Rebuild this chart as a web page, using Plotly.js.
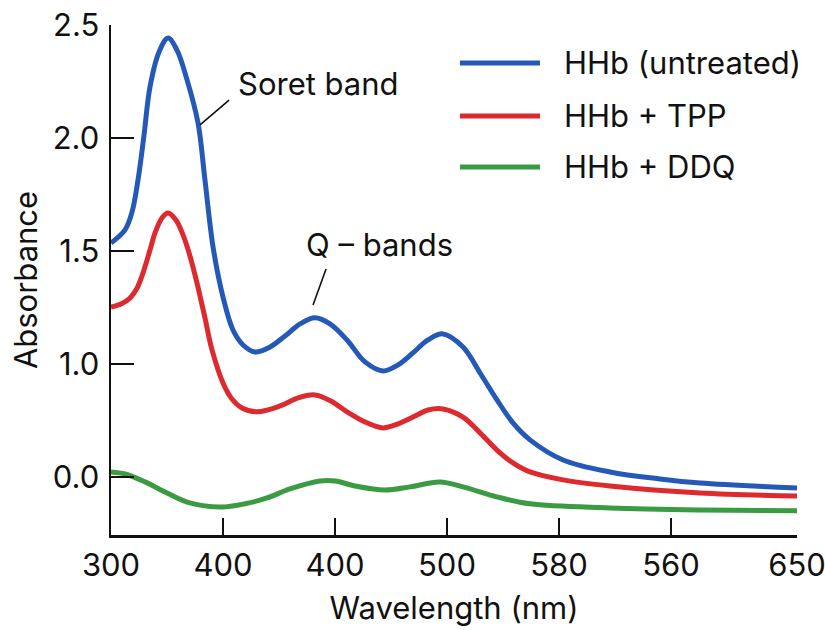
<!DOCTYPE html>
<html>
<head>
<meta charset="utf-8">
<script src="https://cdn.plot.ly/plotly-3.0.1.min.js"></script>
<style>html,body{margin:0;padding:0;background:#fff;}#chart{width:825px;height:630px;}</style>
</head>
<body>
<div id="chart"></div>
<script>
// Series names
const seriesNames = ["HHb (untreated)", "HHb + TPP", "HHb + DDQ"];
const seriesColors = ["#2559b8", "#dc2a2e", "#3a9b42"];

// Axis ticks (plot-unit positions and printed labels, as in the original figure)
const xTickVals = [300, 400, 500, 600, 700, 800, 912.5];
const xTickText = ["300", "400", "400", "500", "580", "560", "650"];
const yTickVals = [0.5, 1.0, 1.5, 2.0, 2.5];
const yTickText = ["0.0", "1.0", "1.5", "2.0", "2.5"];

// HHb (untreated)
const blueX = [300.0, 312.5, 318.8, 324.1, 329.5, 334.8, 342.9, 350.9, 358.9, 367.9, 377.7, 383.9, 391.1, 400.0, 408.9, 417.9, 428.6, 442.0, 455.4, 468.8, 482.1, 495.5, 510.7, 526.8, 542.9, 556.3, 569.6, 583.0, 596.4, 614.3, 629.5, 644.6, 658.9, 674.1, 703.6, 745.5, 790.2, 825.9, 912.5];
const blueY = [1.535, 1.593, 1.673, 1.814, 2.013, 2.226, 2.381, 2.442, 2.389, 2.257, 2.066, 1.814, 1.518, 1.296, 1.150, 1.084, 1.053, 1.075, 1.124, 1.177, 1.204, 1.177, 1.106, 1.009, 0.969, 0.996, 1.049, 1.106, 1.133, 1.075, 0.960, 0.841, 0.739, 0.664, 0.575, 0.522, 0.491, 0.473, 0.451];

// HHb + TPP
const redX = [300.0, 309.8, 317.0, 323.2, 328.6, 334.8, 339.3, 345.5, 350.9, 358.0, 364.3, 370.5, 376.8, 383.9, 390.2, 400.0, 408.0, 417.0, 430.4, 450.9, 467.0, 482.1, 496.4, 510.7, 526.8, 542.9, 556.3, 569.6, 583.0, 596.4, 614.3, 629.5, 644.6, 658.9, 674.1, 703.6, 745.5, 825.9, 912.5];
const redY = [1.252, 1.268, 1.292, 1.335, 1.403, 1.504, 1.580, 1.646, 1.668, 1.637, 1.571, 1.478, 1.358, 1.204, 1.062, 0.916, 0.845, 0.805, 0.788, 0.814, 0.850, 0.863, 0.836, 0.788, 0.743, 0.717, 0.735, 0.765, 0.796, 0.801, 0.765, 0.695, 0.619, 0.562, 0.522, 0.487, 0.460, 0.429, 0.416];

// HHb + DDQ
const greenX = [300.0, 312.5, 330.4, 350.0, 370.5, 397.3, 419.6, 439.3, 459.8, 486.6, 500.0, 517.9, 544.6, 567.0, 593.8, 614.3, 644.6, 674.1, 745.5, 825.9, 912.5];
const greenY = [0.522, 0.513, 0.478, 0.429, 0.385, 0.367, 0.381, 0.407, 0.447, 0.482, 0.482, 0.460, 0.442, 0.456, 0.478, 0.456, 0.412, 0.381, 0.363, 0.354, 0.350];

const xs = [blueX, redX, greenX];
const ys = [blueY, redY, greenY];

const FONT = "Inter, 'Liberation Sans', Arial, sans-serif";
const FS = 31;

const traces = xs.map((x, i) => ({
  x: x, y: ys[i], type: "scatter", mode: "lines",
  name: seriesNames[i],
  line: {color: seriesColors[i], width: 5, shape: "spline", smoothing: 1},
  cliponaxis: false,
  showlegend: false,
  hoverinfo: "skip"
}));

// Manual legend (long line swatches like the original)
const legYs = [0.9255, 0.8216, 0.7216];
const shapes = [];
const annotations = [];
seriesNames.forEach((n, i) => {
  shapes.push({type: "line", xref: "paper", yref: "paper", x0: 0.5087, x1: 0.6254, y0: legYs[i], y1: legYs[i],
    line: {color: seriesColors[i], width: 5}});
  annotations.push({xref: "paper", yref: "paper", x: 0.6574, y: legYs[i], xanchor: "left", yanchor: "middle",
    text: n, showarrow: false, font: {family: FONT, size: FS, color: "#111"}});
});

// Pointer lines
shapes.push({type: "line", xref: "x", yref: "y", x0: 379.5, y0: 2.058, x1: 405.4, y1: 2.168, line: {color: "#111", width: 1.6}});
shapes.push({type: "line", xref: "x", yref: "y", x0: 480.4, y0: 1.261, x1: 492.0, y1: 1.420, line: {color: "#111", width: 1.6}});
annotations.push({x: 411.5, y: 2.243, xref: "x", yref: "y", xanchor: "left", yanchor: "middle", text: "Soret band", showarrow: false,
  font: {family: FONT, size: FS, color: "#111"}});
annotations.push({x: 472.0, y: 1.527, xref: "x", yref: "y", xanchor: "left", yanchor: "middle", text: "Q – bands", showarrow: false,
  font: {family: FONT, size: FS, color: "#111"}});

const layout = {
  width: 825, height: 630,
  margin: {l: 111, r: 28, t: 25, b: 95},
  paper_bgcolor: "#fff", plot_bgcolor: "#fff",
  font: {family: FONT, size: FS, color: "#111"},
  showlegend: false,
  xaxis: {
    range: [300, 912.5], tickmode: "array", tickvals: xTickVals, ticktext: xTickText,
    ticks: "inside", ticklen: 17, tickwidth: 2, tickcolor: "#111",
    showline: true, linewidth: 2.5, linecolor: "#111", showgrid: false, zeroline: false,
    ticklabelstandoff: 1, ticklabeloverflow: "allow",
    tickfont: {family: FONT, size: FS, color: "#111"},
    title: {text: "Wavelength (nm)", font: {family: FONT, size: FS, color: "#111"}, standoff: 16}
  },
  yaxis: {
    range: [0.243, 2.5], tickmode: "array", tickvals: yTickVals, ticktext: yTickText,
    ticks: "inside", ticklen: 23, tickwidth: 2, tickcolor: "#111",
    showline: true, linewidth: 2.5, linecolor: "#111", showgrid: false, zeroline: false,
    ticklabelstandoff: 3, ticklabeloverflow: "allow",
    tickfont: {family: FONT, size: FS, color: "#111"},
    title: {text: "Absorbance", font: {family: FONT, size: FS, color: "#111"}, standoff: 6}
  },
  shapes: shapes,
  annotations: annotations
};

Plotly.newPlot("chart", traces, layout, {staticPlot: true, displayModeBar: false});
</script>
</body>
</html>
